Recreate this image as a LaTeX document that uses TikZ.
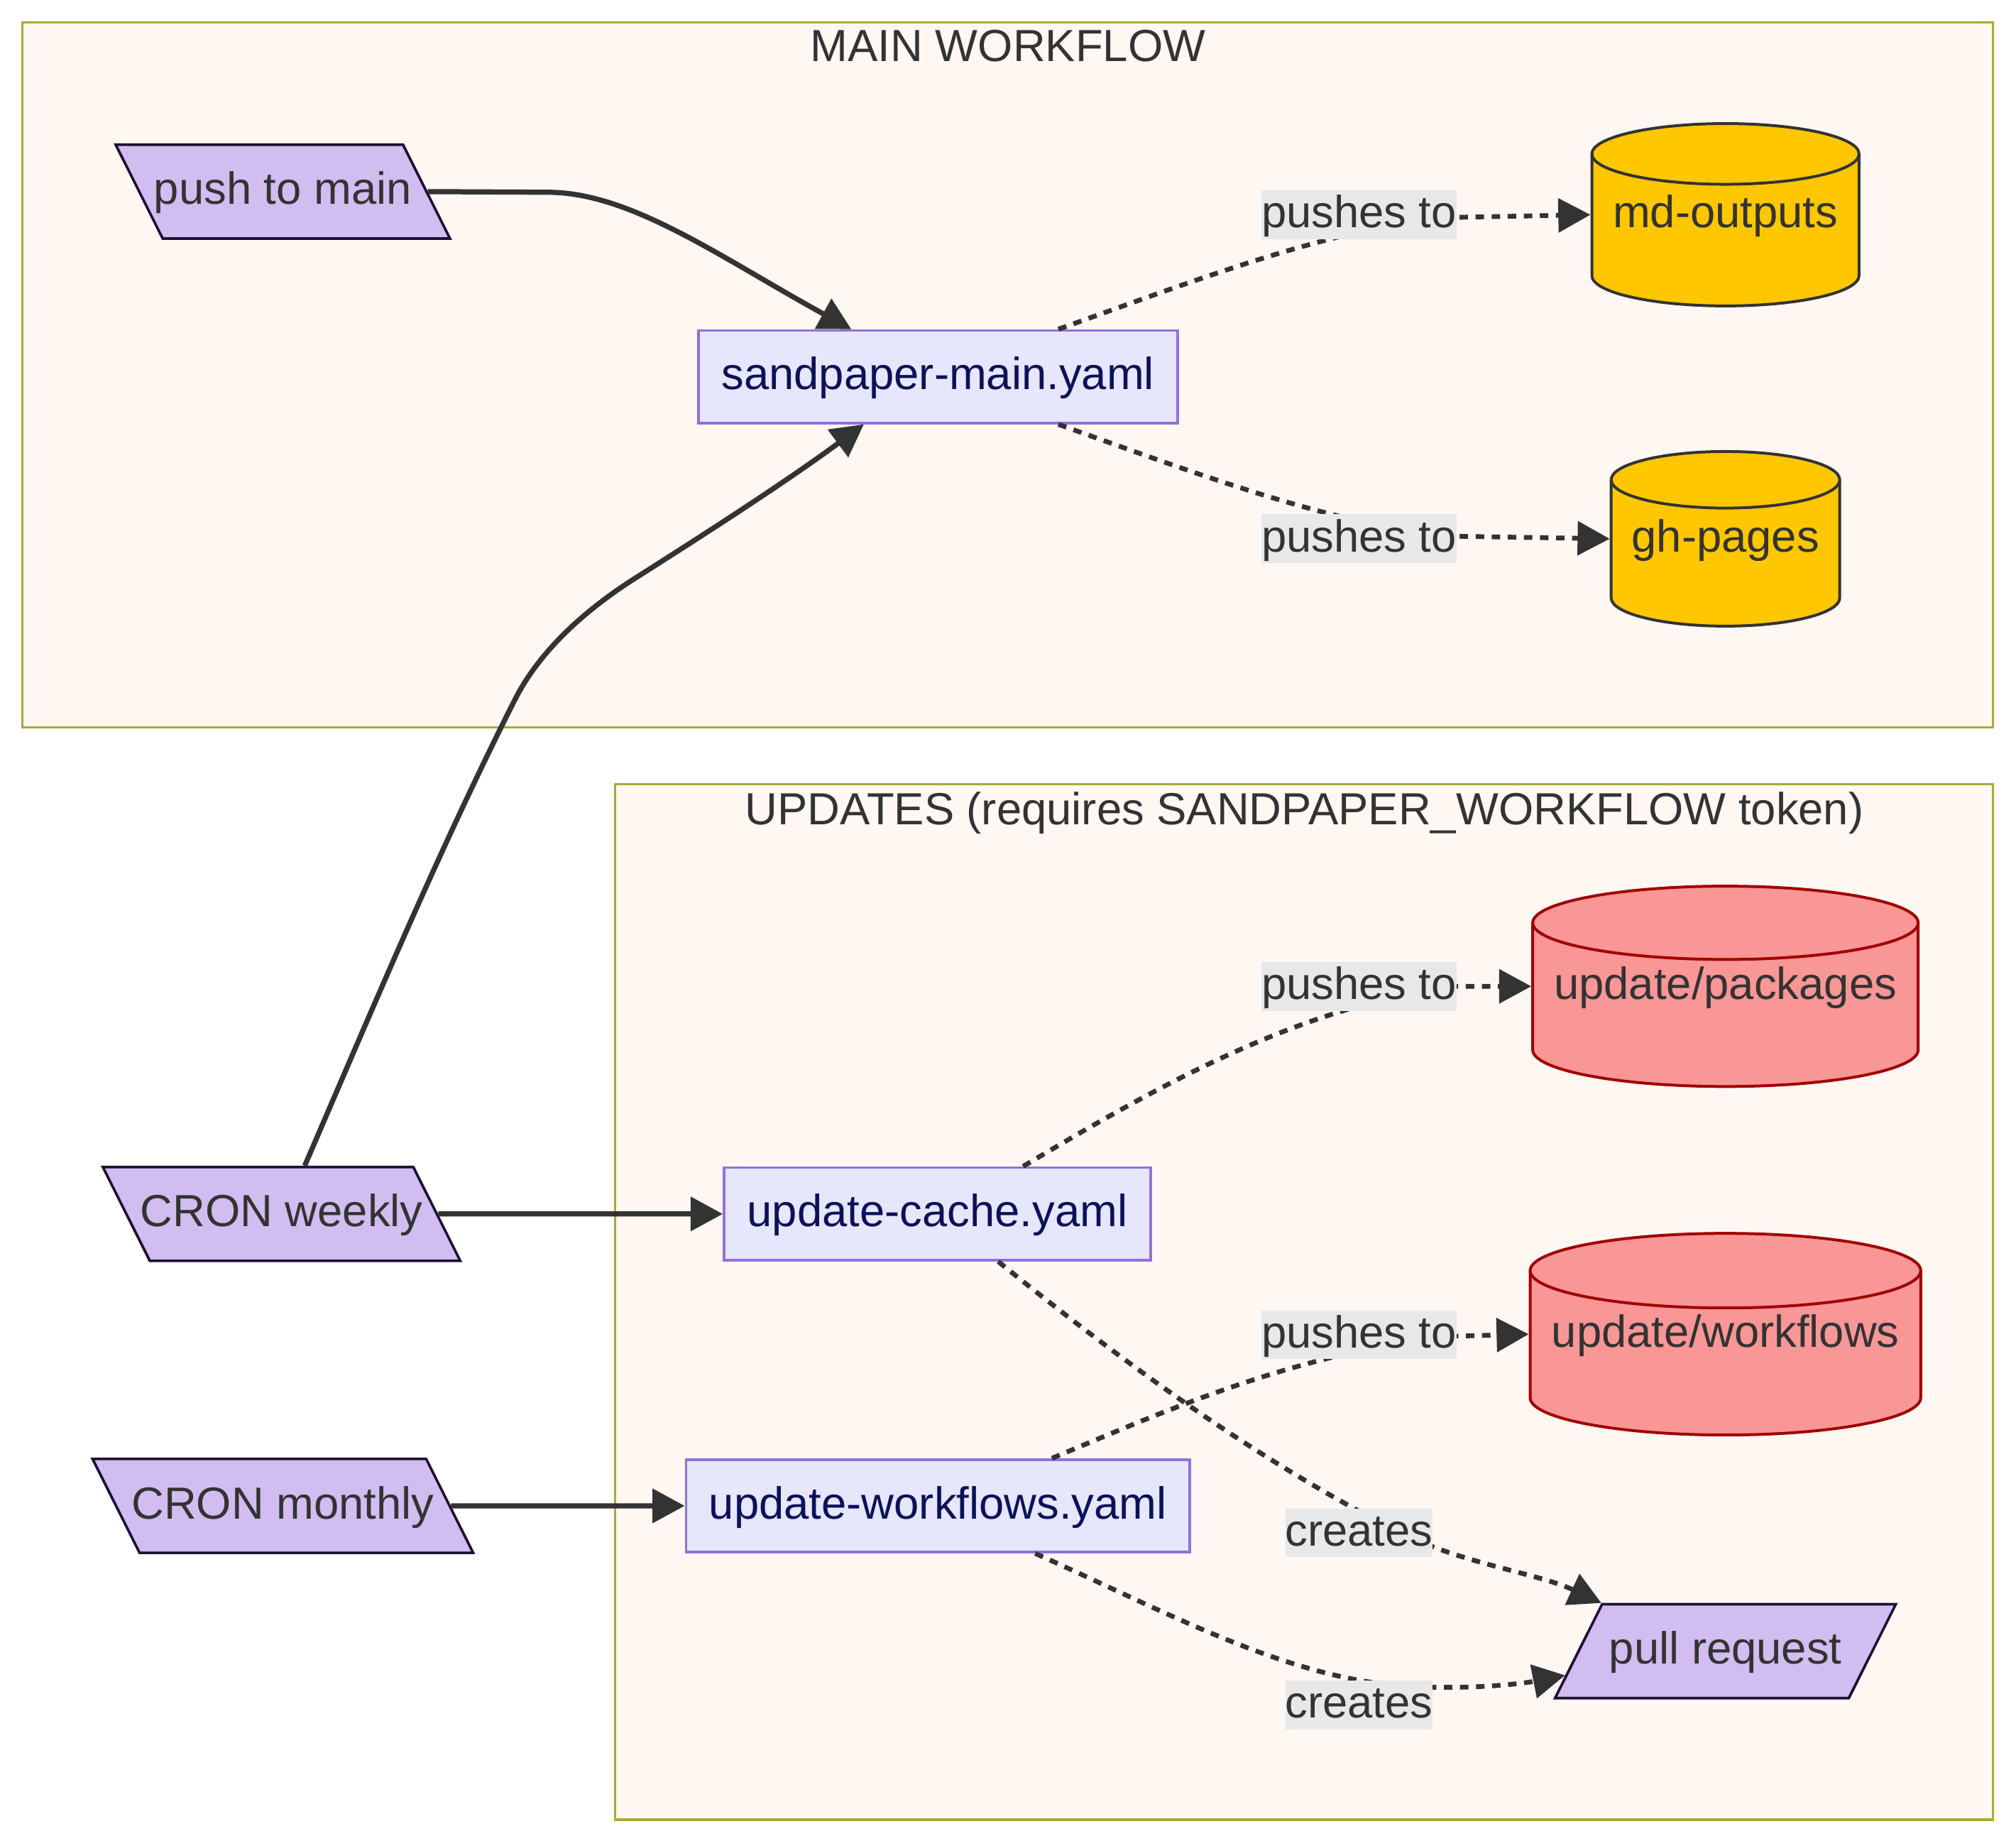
\documentclass[tikz,border=0pt]{standalone}
\usepackage{fontspec}
\setmainfont{Liberation Sans}
\usetikzlibrary{arrows.meta,shapes.geometric,calc}

\definecolor{clusterfill}{HTML}{FFF7F2}
\definecolor{clusterline}{HTML}{AAAA33}
\definecolor{yamlfill}{HTML}{E6E6FD}
\definecolor{yamlline}{HTML}{9370DB}
\definecolor{yamltext}{HTML}{0B1257}
\definecolor{trigfill}{HTML}{D1BDF0}
\definecolor{trigline}{HTML}{1E0F33}
\definecolor{branchfill}{HTML}{FFC700}
\definecolor{updfill}{HTML}{F99696}
\definecolor{updline}{HTML}{A00000}
\definecolor{ink}{HTML}{333333}
\definecolor{lblfill}{HTML}{E8E8E8}

\begin{document}
\begin{tikzpicture}[x=1pt, y=-1pt,
  every node/.style={font=\fontsize{35}{42}\selectfont, text=ink,
    text height=29pt, text depth=9pt},
  cluster/.style={draw=clusterline, fill=clusterfill, line width=1.8pt},
  yaml/.style={rectangle, draw=yamlline, fill=yamlfill, line width=2pt,
    text=yamltext, inner xsep=18pt, inner ysep=17pt},
  trig/.style={trapezium, draw=trigline, fill=trigfill, line width=2pt,
    trapezium stretches body, minimum height=73pt, inner xsep=-8pt,
    inner ysep=17.5pt},
  trigin/.style={trig, trapezium left angle=116.6, trapezium right angle=63.4},
  trigout/.style={trig, trapezium left angle=63.4, trapezium right angle=116.6},
  % drum = width, height, cap radius, fill, line
  drum/.style n args={5}{rectangle, inner sep=0pt, outer sep=0pt,
    fill=clusterfill, minimum width=#1pt, minimum height=#2pt,
    path picture={
      \path[fill=#4, draw=#5, line width=2.2pt]
        ($(path picture bounding box.north west)+(1.1,#3+1.1)$)
        -- ($(path picture bounding box.south west)+(1.1,-#3-1.1)$)
        arc[start angle=180, end angle=0, x radius={#1/2-1.1}, y radius=#3]
        -- ($(path picture bounding box.north east)+(-1.1,#3+1.1)$)
        arc[start angle=0, end angle=-180, x radius={#1/2-1.1}, y radius=#3];
      \draw[#5, line width=2.2pt]
        ($(path picture bounding box.north west)+(1.1,#3+1.1)$)
        arc[start angle=180, end angle=0, x radius={#1/2-1.1}, y radius=#3];
    }},
  branch/.style n args={3}{drum={#1}{#2}{#3}{branchfill}{ink}},
  upd/.style n args={3}{drum={#1}{#2}{#3}{updfill}{updline}},
  lbl/.style={fill=lblfill, inner sep=0pt},
  flow/.style={draw=ink, line width=4pt, -{Triangle[length=25pt,width=26pt]}},
  pushes/.style={flow, line width=3.7pt, dash pattern=on 6.6pt off 5.9pt},
]
  \useasboundingbox[fill=white] (0,0) rectangle (1568,1431.2);

  % subgraphs
  \draw[cluster] (17.4,17.4) rectangle (1550,565.6);
  \node[anchor=base] (maintitle) at (784,48) {MAIN WORKFLOW};
  \draw[cluster] (478.6,610) rectangle (1550,1415);
  \node[anchor=base] (updtitle) at (1014.5,641)
    {UPDATES (requires SANDPAPER\_WORKFLOW token)};

  % nodes
  \node[trigin, minimum width=260pt] (push)    at (220,149)  {push to main};
  \node[yaml]                        (main)    at (729.5,293) {sandpaper-main.yaml};
  \node[branch={210}{144}{23.6}]     (md)      at (1342,167) {md-outputs};
  \node[branch={180}{138}{22}]       (gh)      at (1342,419) {gh-pages};
  \node[trigin, minimum width=278pt] (weekly)  at (219,944)  {CRON weekly};
  \node[trigin, minimum width=296pt] (monthly) at (220,1171) {CRON monthly};
  \node[yaml]                        (cache)   at (729,944)  {update-cache.yaml};
  \node[yaml]                        (wflow)   at (729.5,1171) {update-workflows.yaml};
  \node[upd={302}{158}{28.5}]        (pkgs)    at (1342,767) {update/packages};
  \node[upd={306}{159}{29}]          (wfs)     at (1342,1037.5) {update/workflows};
  \node[trigout, minimum width=265pt] (pr)     at (1342,1284) {pull request};

  % triggers
  \draw[flow] (push.east) -- (425,149.5) .. controls (490,149) and (560,200)
    .. ($(main.north west)!0.32!(main.north east)$);
  \draw[flow] ($(weekly.north)+(18,0)$) .. controls (289,786) and (341,662)
    .. (400,545) .. controls (420,505) and (457,473)
    .. (495,449) .. controls (555,411) and (615,372)
    .. ($(main.south west)!0.346!(main.south east)$);
  \draw[flow] (weekly.east) -- (cache.west);
  \draw[flow] (monthly.east) -- (wflow.west);

  % outputs
  \draw[pushes] ($(main.north west)!0.75!(main.north east)$)
    .. controls (930,218) and (1040,175) .. (1133,169) -- (md.west);
  \draw[pushes] ($(main.south west)!0.75!(main.south east)$)
    .. controls (930,368) and (1040,410) .. (1133,417) -- (gh.west);
  \draw[pushes] ($(cache.north west)!0.7!(cache.north east)$)
    .. controls (900,845) and (1010,782) .. (1133,767) -- (pkgs.west);
  \draw[pushes] ($(wflow.north west)!0.725!(wflow.north east)$)
    .. controls (900,1100) and (1010,1050) .. (1133,1039) -- (wfs.west);
  \draw[pushes] ($(cache.south west)!0.642!(cache.south east)$)
    .. controls (873,1059) and (974,1133) .. (1085,1190)
    .. controls (1136,1216) and (1195,1223) .. (pr.top left corner);
  \draw[pushes] ($(wflow.south west)!0.692!(wflow.south east)$)
    .. controls (900,1250) and (990,1300) .. (1080,1310)
    .. controls (1130,1315) and (1180,1310)
    .. ($(pr.top left corner)!0.75!(pr.bottom left corner)$);

  % edge labels
  \node[lbl] (lmd)   at (1057,167)  {pushes to};
  \node[lbl] (lgh)   at (1057,419)  {pushes to};
  \node[lbl] (lpkgs) at (1057,767)  {pushes to};
  \node[lbl] (lwfs)  at (1057,1038) {pushes to};
  \node[lbl] (lpr1)  at (1057,1192) {creates};
  \node[lbl] (lpr2)  at (1057,1326) {creates};
\end{tikzpicture}
\end{document}
